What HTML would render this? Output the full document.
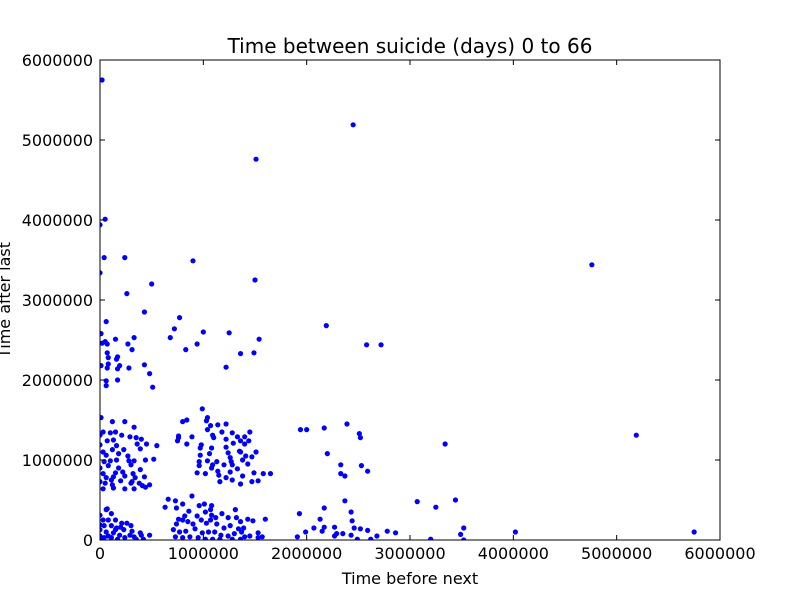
<!DOCTYPE html>
<html><head><meta charset="utf-8"><style>
html,body{margin:0;padding:0;background:#fff;width:800px;height:600px;overflow:hidden}
svg{display:block;font-family:"DejaVu Sans","Liberation Sans",sans-serif}
</style></head><body>
<svg id="chart" width="800" height="600" viewBox="0 0 800 600">
<rect width="800" height="600" fill="#fff"/>
<text x="410" y="53" text-anchor="middle" font-size="20">Time between suicide (days) 0 to 66</text>
<text x="410" y="584" text-anchor="middle" font-size="16">Time before next</text>
<text transform="translate(10,300) rotate(-90)" text-anchor="middle" font-size="16">Time after last</text>
<g id="marks"></g>
<g id="axes"></g>
</svg>
<script>
// values in millions
const xValues = [0.02,2.45,1.51,0.05,0.00,0.04,0.24,0.90,0.00,1.50,0.50,0.26,4.76,2.19,2.58,2.72,1.94,2.00,2.17,2.39,2.51,2.52,2.20,3.34,5.19,2.33,2.53,2.33,2.37,2.59,
1.93,2.37,2.17,2.43,3.07,3.25,3.44,2.44,2.13,1.99,2.07,2.15,2.17,2.27,2.29,2.35,2.43,2.46,2.52,2.59,2.68,2.78,2.86,1.91,2.27,3.20,3.49,3.52,3.52,4.02,5.75,2.62,2.49,
0.43,0.06,0.77,0.72,1.00,0.01,1.25,1.54,0.68,0.94,0.83,1.36,1.49,1.22,0.15,0.33,0.27,0.31,0.05,0.07,0.07,0.08,0.16,0.17,0.08,0.07,0.01,0.17,0.19,0.28,0.43,0.48,0.51,0.17,0.06,0.06,0.02,
0.01,0.12,0.24,0.33,0.03,0.10,0.15,0.21,0.29,0.00,0.07,0.13,0.35,0.00,0.16,0.36,0.40,0.45,0.55,0.03,0.12,0.23,0.39,0.06,0.18,0.27,0.04,0.10,0.16,0.28,0.33,0.00,0.08,0.18,0.30,0.44,0.52,0.03,0.15,0.22,0.32,0.39,0.06,0.13,0.24,0.34,0.43,0.00,0.05,0.12,0.20,0.30,0.38,0.03,0.13,0.24,0.33,0.41,0.48,0.31,0.44,0.11,
0.99,1.04,1.03,0.80,0.84,1.14,1.04,1.28,1.10,1.18,1.36,1.40,1.08,1.22,0.76,0.89,0.76,0.75,0.84,0.98,1.09,1.22,1.07,1.22,1.33,1.24,1.35,1.41,1.51,1.44,1.29,1.36,0.97,1.06,0.96,1.13,1.27,1.38,1.47,0.96,1.09,1.20,1.28,1.33,1.43,1.08,1.14,1.26,0.94,1.02,1.15,1.22,1.38,1.49,1.36,1.53,1.47,1.58,1.65,1.28,1.16,0.97,1.45,1.40,1.26,1.04,
0.06,0.11,0.00,0.08,0.15,0.21,0.26,0.00,0.04,0.11,0.16,0.23,0.30,0.00,0.06,0.13,0.19,0.29,0.39,0.00,0.04,0.11,0.17,0.24,0.35,0.42,0.48,0.00,0.08,0.15,0.31,0.20,0.03,0.07,0.40,0.33,
0.66,0.73,0.74,0.80,0.63,0.89,0.96,1.01,1.08,1.07,1.08,0.86,0.82,0.76,0.80,0.85,0.74,0.90,0.98,1.03,1.07,1.12,1.18,1.24,1.31,1.32,1.36,1.43,1.48,1.13,1.20,1.26,1.34,1.39,0.71,0.77,0.83,0.92,0.99,1.05,1.11,1.17,1.24,1.30,1.37,1.40,0.73,0.80,0.87,0.95,1.02,1.09,1.16,1.28,1.36,1.45,1.53,1.53,1.60,1.57,0.94,1.02];
const yValues = [5.75,5.19,4.76,4.01,3.94,3.53,3.53,3.49,3.34,3.25,3.20,3.08,3.44,2.68,2.44,2.44,1.38,1.38,1.40,1.45,1.33,1.28,1.08,1.20,1.31,0.94,0.93,0.83,0.80,0.86,
0.33,0.49,0.40,0.35,0.48,0.41,0.50,0.24,0.26,0.10,0.15,0.11,0.16,0.16,0.08,0.08,0.06,0.15,0.14,0.12,0.05,0.11,0.09,0.04,0.05,0.01,0.07,0.15,0.00,0.10,0.10,0.01,0.01,
2.85,2.73,2.78,2.64,2.60,2.58,2.59,2.51,2.53,2.45,2.38,2.33,2.34,2.16,2.51,2.53,2.45,2.38,2.48,2.45,2.34,2.28,2.26,2.29,2.20,2.15,2.18,2.14,2.18,2.15,2.19,2.08,1.91,2.00,1.99,1.93,2.46,
1.53,1.48,1.48,1.41,1.35,1.34,1.35,1.31,1.29,1.31,1.24,1.25,1.28,1.19,1.18,1.20,1.26,1.20,1.18,1.10,1.13,1.13,1.14,1.06,1.08,1.05,0.98,0.99,1.00,0.99,0.99,0.90,0.93,0.90,0.94,1.00,1.01,0.83,0.84,0.85,0.83,0.88,0.78,0.79,0.80,0.78,0.79,0.73,0.71,0.69,0.74,0.71,0.71,0.64,0.65,0.64,0.64,0.68,0.69,0.73,0.66,0.75,
1.64,1.53,1.49,1.48,1.50,1.44,1.38,1.34,1.28,1.35,1.24,1.20,1.15,1.16,1.30,1.29,1.28,1.24,1.20,1.19,1.31,1.45,1.43,1.26,1.29,1.09,1.11,1.05,1.10,1.24,1.21,1.10,1.06,1.08,0.98,0.98,0.98,1.00,1.04,0.93,0.94,0.94,0.94,0.89,0.95,0.90,0.86,0.85,0.84,0.83,0.81,0.78,0.80,0.84,0.70,0.74,0.73,0.83,0.83,0.75,0.73,1.15,1.35,1.29,1.03,0.99,
0.38,0.33,0.31,0.25,0.25,0.21,0.21,0.19,0.18,0.18,0.15,0.13,0.18,0.13,0.10,0.09,0.06,0.06,0.09,0.05,0.03,0.03,0.01,0.03,0.01,0.01,0.06,0.00,0.05,0.13,0.11,0.16,0.25,0.39,0.06,0.04,
0.51,0.49,0.40,0.45,0.41,0.55,0.43,0.45,0.43,0.38,0.31,0.36,0.30,0.26,0.25,0.23,0.20,0.20,0.25,0.21,0.25,0.28,0.33,0.28,0.38,0.28,0.23,0.26,0.24,0.20,0.15,0.18,0.14,0.15,0.13,0.10,0.11,0.14,0.09,0.10,0.10,0.06,0.05,0.08,0.10,0.04,0.04,0.03,0.04,0.03,0.01,0.01,0.01,0.01,0.01,0.05,0.09,0.03,0.26,0.04,0.30,0.35];
const xTickValues = [0,1,2,3,4,5,6];
const yTickValues = [0,1,2,3,4,5,6];
const xTickLabels = ["0","1000000","2000000","3000000","4000000","5000000","6000000"];
const yTickLabels = ["0","1000000","2000000","3000000","4000000","5000000","6000000"];

const NS = "http://www.w3.org/2000/svg";
const L = 100, R = 720, T = 60, B = 540;
const xMin = 0, xMax = 6, yMin = 0, yMax = 6;
function xScale(v){ return L + (v - xMin) / (xMax - xMin) * (R - L); }
function yScale(v){ return B - (v - yMin) / (yMax - yMin) * (B - T); }
function mk(tag, attrs){ const e = document.createElementNS(NS, tag); for (const k in attrs) e.setAttribute(k, attrs[k]); return e; }

const marks = document.getElementById('marks');
const clip = mk('clipPath', {id:'plotclip'});
clip.appendChild(mk('rect', {x:L, y:T, width:R-L, height:B-T}));
document.getElementById('chart').appendChild(clip);
marks.setAttribute('clip-path', 'url(#plotclip)');
for (let i = 0; i < xValues.length; i++) {
  const c = mk('circle', {cx: xScale(xValues[i]), cy: yScale(yValues[i]), r: 2.6, fill: '#0000ff'});
  
  
  marks.appendChild(c);
}

const axes = document.getElementById('axes');
const frame = mk('rect', {x:L, y:T, width:R-L, height:B-T, fill:'none', stroke:'#000', 'stroke-width':1});


axes.appendChild(frame);
xTickValues.forEach((v, i) => {
  const x = xScale(v);
  axes.appendChild(mk('line', {x1:x, y1:B, x2:x, y2:B-5, stroke:'#000'}));
  axes.appendChild(mk('line', {x1:x, y1:T, x2:x, y2:T+5, stroke:'#000'}));
  const t = mk('text', {x:x, y:B+19, 'text-anchor':'middle', 'font-size':16});
  t.textContent = xTickLabels[i];
  
  
  axes.appendChild(t);
});
yTickValues.forEach((v, i) => {
  const y = yScale(v);
  axes.appendChild(mk('line', {x1:L, y1:y, x2:L+5, y2:y, stroke:'#000'}));
  axes.appendChild(mk('line', {x1:R, y1:y, x2:R-5, y2:y, stroke:'#000'}));
  const t = mk('text', {x:L-7, y:y+6, 'text-anchor':'end', 'font-size':16});
  t.textContent = yTickLabels[i];
  
  
  axes.appendChild(t);
});
</script>
</body></html>
